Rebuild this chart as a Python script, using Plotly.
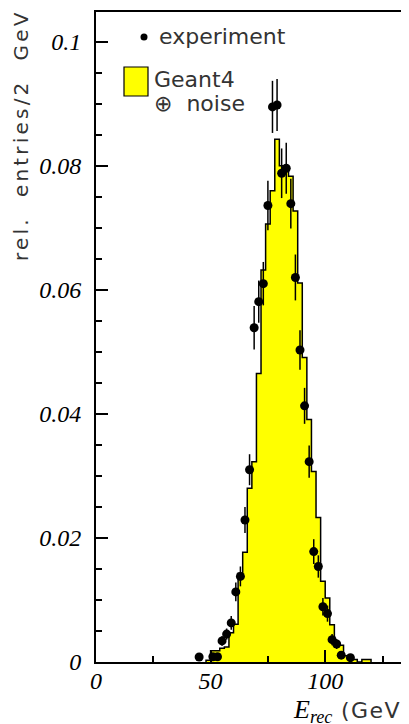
import plotly.graph_objects as go

# ---- data ----
# Geant4 (+noise) histogram, 2 GeV bins: left bin edges and heights
hist_edges = [48, 50, 52, 54, 56, 58, 60, 62, 64, 66, 68, 70, 72, 74, 76, 78, 80, 82, 84, 86,
              88, 90, 92, 94, 96, 98, 100, 102, 104, 106, 108, 110, 112, 114, 116, 118, 120]
hist_vals = [0.0003, 0.0018, 0.0018, 0.0022, 0.0024, 0.0047, 0.0061, 0.0143, 0.0177, 0.0280,
             0.0323, 0.0465, 0.0632, 0.0706, 0.0760, 0.0843, 0.0800, 0.0795, 0.0783, 0.0727,
             0.0611, 0.0491, 0.0391, 0.0307, 0.0233, 0.0130, 0.0103, 0.0060, 0.0030, 0.0027,
             0.0010, 0.0010, 0.0004, 0.0, 0.0004, 0.0004]

# experiment points (bin centres), values and errors
exp_x = [45, 51, 53, 55, 57, 59, 61, 63, 65, 67, 69, 71, 73, 75, 77, 79, 81, 83, 85, 87,
         89, 91, 93, 95, 97, 99, 101, 103, 105, 107, 111]
exp_y = [0.0008, 0.00085, 0.00085, 0.0034, 0.0045, 0.0063, 0.0113, 0.0138, 0.0229, 0.0310,
         0.0539, 0.0581, 0.0610, 0.0736, 0.0895, 0.0898, 0.0788, 0.0796, 0.0739, 0.0620,
         0.0503, 0.0413, 0.0323, 0.0178, 0.0154, 0.0089, 0.0078, 0.0036, 0.0029, 0.0011, 0.0007]
exp_err = [0.0004, 0.0004, 0.0004, 0.0008, 0.0009, 0.0011, 0.0015, 0.0016, 0.0021, 0.0025,
           0.0035, 0.0034, 0.0035, 0.0040, 0.0042, 0.0042, 0.0040, 0.0041, 0.0040, 0.0037,
           0.0032, 0.0029, 0.0026, 0.0020, 0.0018, 0.0014, 0.0013, 0.0009, 0.0008, 0.0005, 0.0004]

y_tickvals = [0, 0.02, 0.04, 0.06, 0.08, 0.1]
y_ticktext = ["0", "0.02", "0.04", "0.06", "0.08", "0.1"]
x_tickvals = [0, 50, 100]
x_ticktext = ["0", "50", "100"]

# ---- layout geometry (page body has an 8px margin) ----
OFF = 8
W, H = 409 - OFF, 724 - OFF
L, R, T, B = 96 - OFF, 0, 12 - OFF, 724 - 662
pw, ph = W - L - R, H - T - B


def px(xp):
    # xp: x position in window pixels
    return (xp - OFF - L) / pw


def py(yp):
    # yp: y position in window pixels
    return (H - B - (yp - OFF)) / ph


# step outline for the histogram
sx = [hist_edges[0]] + hist_edges[:-1] + [hist_edges[-1], hist_edges[-1]]
sy = [0] + hist_vals + [hist_vals[-1], 0]

fig = go.Figure()
fig.add_trace(go.Scatter(
    x=sx, y=sy, mode="lines", line=dict(shape="hv", color="black", width=1.5),
    fill="tozeroy", fillcolor="#ffff00", hoverinfo="skip", showlegend=False))
fig.add_trace(go.Scatter(
    x=exp_x, y=exp_y, mode="markers",
    marker=dict(color="black", size=9),
    error_y=dict(type="data", array=exp_err, color="black", thickness=1.5, width=0),
    showlegend=False))

tickfont = dict(family="Liberation Serif", size=24, color="black", style="italic")

fig.update_layout(
    width=W, height=H,
    margin=dict(l=L, r=R, t=T, b=B, pad=0, autoexpand=False),
    paper_bgcolor="white", plot_bgcolor="white",
    showlegend=False,
    xaxis=dict(range=[0, pw / 2.292], showgrid=False, zeroline=False,
               showline=True, linecolor="black", linewidth=2, mirror=True,
               ticks="inside", ticklen=12, tickwidth=1.5, tickcolor="black",
               tickvals=x_tickvals, ticktext=x_ticktext, tickfont=tickfont,
               ticklabelstandoff=-4, automargin=False,
               minor=dict(tickvals=[25, 75, 125], ticks="inside", ticklen=6,
                          tickwidth=1.5, tickcolor="black")),
    yaxis=dict(range=[0, 0.1048], showgrid=False, zeroline=False,
               showline=True, linecolor="black", linewidth=2,
               ticks="inside", ticklen=12, tickwidth=1.5, tickcolor="black",
               tickvals=y_tickvals, ticktext=y_ticktext, tickfont=tickfont,
               ticklabelstandoff=8, automargin=False,
               minor=dict(tickvals=[0.005 * i for i in range(21)], ticks="inside",
                          ticklen=6, tickwidth=1.5, tickcolor="black")),
)

sans = dict(family="DejaVu Sans", size=22, color="#333333")

# y axis title
fig.add_annotation(
    xref="paper", yref="paper", x=px(21), y=py(135), xanchor="center", yanchor="middle",
    textangle=-90, showarrow=False,
    text='<span style="letter-spacing:3.2px">rel.  entries/2  GeV</span>',
    font=dict(family="DejaVu Sans", size=20, color="#333333"))

# x axis title
fig.add_annotation(
    xref="paper", yref="paper", x=px(291), y=py(711), xanchor="left", yanchor="middle",
    showarrow=False,
    text=('<i>E</i><sub><i>rec</i></sub>'
          '<span style="font-family:\'DejaVu Sans\';font-style:normal;font-size:22px;'
          'letter-spacing:1.5px;fill:#333333"> (GeV)</span>'),
    font=dict(family="Liberation Serif", size=26, color="black"))

# legend
fig.add_shape(type="circle", xref="paper", yref="paper",
              x0=px(140.5), x1=px(147.5), y0=py(40.5), y1=py(33.5),
              fillcolor="black", line=dict(color="black", width=0))
fig.add_annotation(xref="paper", yref="paper", x=px(157), y=py(37), xanchor="left",
                   yanchor="middle", showarrow=False, text="experiment", font=sans)
fig.add_shape(type="rect", xref="paper", yref="paper",
              x0=px(124), x1=px(148), y0=py(96), y1=py(67),
              fillcolor="#ffff00", line=dict(color="black", width=1.2))
fig.add_annotation(xref="paper", yref="paper", x=px(152), y=py(79), xanchor="left",
                   yanchor="middle", showarrow=False, text="Geant4", font=sans)
fig.add_annotation(xref="paper", yref="paper", x=px(152), y=py(104), xanchor="left",
                   yanchor="middle", showarrow=False, text="⊕  noise", font=sans)

fig.write_html("out.html")
